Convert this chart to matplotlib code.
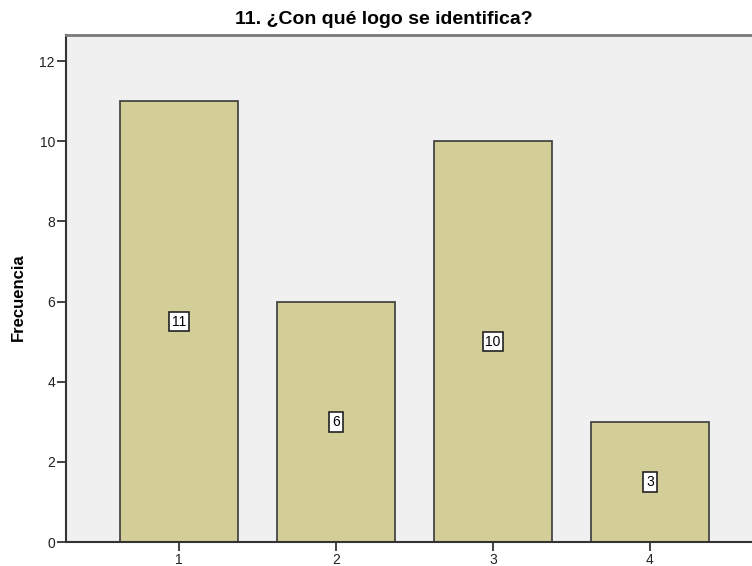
import matplotlib
matplotlib.use("Agg")
import matplotlib.pyplot as plt

categories = ["1", "2", "3", "4"]
counts = [11, 6, 10, 3]
y_ticks = [0, 2, 4, 6, 8, 10, 12]

plt.rcParams['font.family'] = ['Liberation Sans', 'DejaVu Sans']

fig = plt.figure(figsize=(7.52, 5.66), dpi=100)
ax_w = 1 - 66 / 752
ax = fig.add_axes([66 / 752, 24 / 566, ax_w, 507 / 566])
ax.set_facecolor("#f0f0f0")

x = list(range(1, len(categories) + 1))
ax.bar(x, counts, width=0.75, color="#d3ce98", edgecolor="#3a3a3a", linewidth=1.2, zorder=2)

# value labels in small white boxes, halfway up each bar
for xi, c in zip(x, counts):
    ax.text(xi, c / 2, str(c), ha="center", va="center", fontsize=10,
            bbox=dict(boxstyle="square,pad=0.2", facecolor="white", edgecolor="#222222", linewidth=1.2),
            zorder=3)

ax.set_xlim(0.28, 4.65)
ax.set_ylim(0, 12.65)
ax.set_xticks(x)
ax.set_xticklabels(categories)
ax.set_yticks(y_ticks)
ax.tick_params(axis="both", direction="out", length=6.5, width=1.2, pad=1.5,
               labelsize=10, colors="#222222")

ax.spines["left"].set_color("#333333")
ax.spines["left"].set_linewidth(1.5)
ax.spines["bottom"].set_color("#333333")
ax.spines["bottom"].set_linewidth(1.5)
ax.spines["top"].set_color("#7a7a7a")
ax.spines["top"].set_linewidth(2)
ax.spines["right"].set_visible(False)

ax.set_ylabel("Frecuencia", fontsize=12, fontweight="bold")
ax.yaxis.set_label_coords((26 - 66) / 686, (542 - 297) / 507)
fig.text(384 / 752, 1 - 19 / 566, "11. ¿Con qué logo se identifica?",
         ha="center", va="center", fontsize=14, fontweight="bold")

fig.savefig("out.png", dpi=100)
